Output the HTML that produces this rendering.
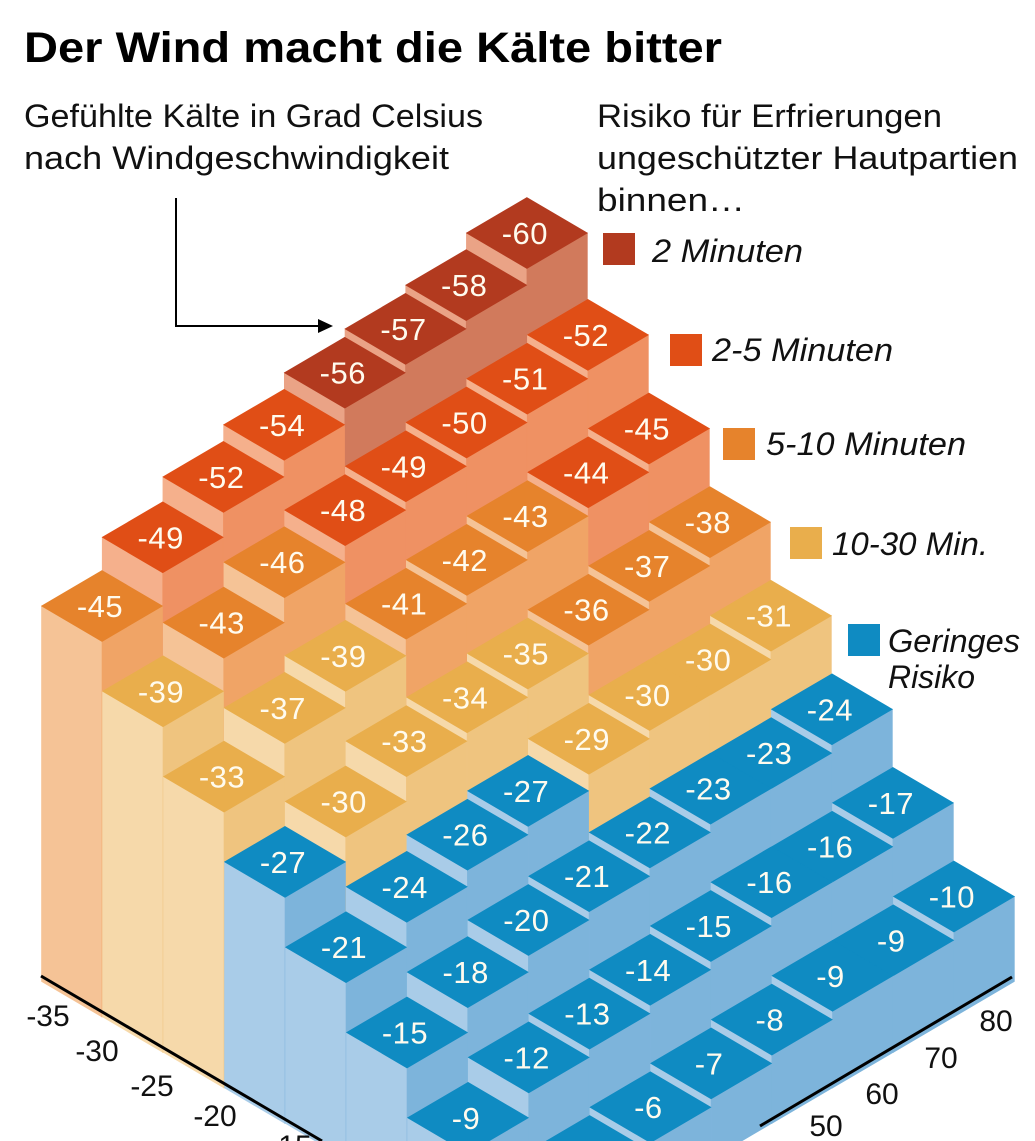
<!DOCTYPE html>
<html><head><meta charset="utf-8"><style>
html,body{margin:0;padding:0;background:#fff;width:1035px;height:1141px;overflow:hidden;}
svg{display:block;}
text{font-family:"Liberation Sans",sans-serif;}
</style></head><body>
<svg id="s" width="1035" height="1141" viewBox="0 0 1035 1141" xmlns="http://www.w3.org/2000/svg">
<rect width="1035" height="1141" fill="#fff"/>
<g id="bars"></g>
<line x1="41" y1="976" x2="322" y2="1141" stroke="#000" stroke-width="3"/>
<line x1="1012" y1="977" x2="760" y2="1126" stroke="#000" stroke-width="3"/>
<g font-size="30" fill="#111" text-anchor="middle">
<text x="48" y="1026">-35</text><text x="97" y="1061">-30</text><text x="152" y="1096">-25</text><text x="215" y="1126">-20</text><text x="290" y="1156">-15</text>
<text x="826" y="1136">50</text><text x="882" y="1104">60</text><text x="941" y="1068">70</text><text x="996" y="1031">80</text>
</g>
<text x="24" y="62" font-size="43" font-weight="bold" fill="#000" textLength="698" lengthAdjust="spacingAndGlyphs">Der Wind macht die Kälte bitter</text>
<g font-size="32" fill="#111">
<text x="24" y="127" textLength="459" lengthAdjust="spacingAndGlyphs">Gefühlte Kälte in Grad Celsius</text>
<text x="24" y="169" textLength="425" lengthAdjust="spacingAndGlyphs">nach Windgeschwindigkeit</text>
<text x="597" y="127" textLength="345" lengthAdjust="spacingAndGlyphs">Risiko für Erfrierungen</text>
<text x="597" y="169" textLength="421" lengthAdjust="spacingAndGlyphs">ungeschützter Hautpartien</text>
<text x="597" y="211" textLength="148" lengthAdjust="spacingAndGlyphs">binnen…</text>
</g>
<g font-size="32" font-style="italic" fill="#111">
<rect x="603" y="233" width="32" height="32" fill="#b23a1f"/><text x="652" y="262" textLength="151" lengthAdjust="spacingAndGlyphs">2 Minuten</text>
<rect x="670" y="334" width="32" height="32" fill="#e04e16"/><text x="712" y="361" textLength="181" lengthAdjust="spacingAndGlyphs">2-5 Minuten</text>
<rect x="723" y="428" width="32" height="32" fill="#e6832c"/><text x="766" y="455" textLength="200" lengthAdjust="spacingAndGlyphs">5-10 Minuten</text>
<rect x="790" y="527" width="32" height="32" fill="#e9ae4c"/><text x="832" y="555" textLength="156" lengthAdjust="spacingAndGlyphs">10-30 Min.</text>
<rect x="848" y="624" width="32" height="32" fill="#0f8bc2"/><text x="888" y="652" textLength="132" lengthAdjust="spacingAndGlyphs">Geringes</text>
<text x="888" y="688" textLength="87" lengthAdjust="spacingAndGlyphs">Risiko</text>
</g>
<polyline points="176,198 176,326 320,326" fill="none" stroke="#000" stroke-width="2"/>
<polygon points="333,326 318,319 318,333" fill="#000"/>
</svg>
<script>
(function(){
var V=[[-45,-49,-52,-54,-56,-57,-58,-60],[-39,-43,-46,-48,-49,-50,-51,-52],[-33,-37,-39,-41,-42,-43,-44,-45],[-27,-30,-33,-34,-35,-36,-37,-38],[-21,-24,-26,-27,-29,-30,-30,-31],[-15,-18,-20,-21,-22,-23,-23,-24],[-9,-12,-13,-14,-15,-16,-16,-17],[-3,-5,-6,-7,-8,-9,-9,-10]];
var K=[];for(var a=0;a<8;a++)K.push("BBBBBBBB".split(""));
function set(i,a,b,c){for(var j=a;j<=b;j++)K[i][j]=c;}
set(0,4,7,"D");set(0,1,3,"R");set(0,0,0,"O");
set(1,3,7,"R");set(1,1,2,"O");set(1,0,0,"Y");
set(2,6,7,"R");set(2,3,5,"O");set(2,0,2,"Y");
set(3,5,7,"O");set(3,1,4,"Y");set(3,0,0,"B");
set(4,4,7,"Y");set(4,0,3,"B");
var COL={D:["#b23a1f","#eaa386","#d17a5c"],R:["#e04e16","#f5b08c","#ef9163"],O:["#e6832c","#f5c396","#f0a466"],Y:["#e9ae4c","#f6d9aa","#efc47f"],B:["#0f8bc2","#a9cce8","#7db4db"]};
var h=8.3,ns="http://www.w3.org/2000/svg",g=document.getElementById("bars");
var cells=[];for(var i=0;i<8;i++)for(var j=0;j<8;j++)cells.push([i,j]);
cells.sort(function(a,b){return (a[0]-a[1])-(b[0]-b[1]);});
function poly(pts,fill){var p=document.createElementNS(ns,"polygon");p.setAttribute("points",pts.map(function(q){return q[0].toFixed(1)+","+q[1].toFixed(1);}).join(" "));p.setAttribute("fill",fill);p.setAttribute("stroke",fill);p.setAttribute("stroke-width","0.6");g.appendChild(p);}
cells.forEach(function(c){var i=c[0],j=c[1],v=-V[i][j];var cx=102+61*i+60.7*j,cy=606+35.5*i-35.5*j+(45-v)*h;var H=v*h+2;var col=COL[K[i][j]];
poly([[cx-60.5,cy],[cx,cy+35.5],[cx,cy+35.5+H],[cx-60.5,cy+H]],col[1]);
poly([[cx,cy+35.5],[cx+60.5,cy],[cx+60.5,cy+H],[cx,cy+35.5+H]],col[2]);
poly([[cx,cy-35.5],[cx+60.5,cy],[cx,cy+35.5],[cx-60.5,cy]],col[0]);
var t=document.createElementNS(ns,"text");t.setAttribute("x",(cx-2).toFixed(1));t.setAttribute("y",(cy+11).toFixed(1));t.setAttribute("text-anchor","middle");t.setAttribute("font-size","31");t.setAttribute("fill","#fffbee");t.setAttribute("letter-spacing","0.5");t.textContent=String(V[i][j]);g.appendChild(t);});
})();
</script>
</body></html>
